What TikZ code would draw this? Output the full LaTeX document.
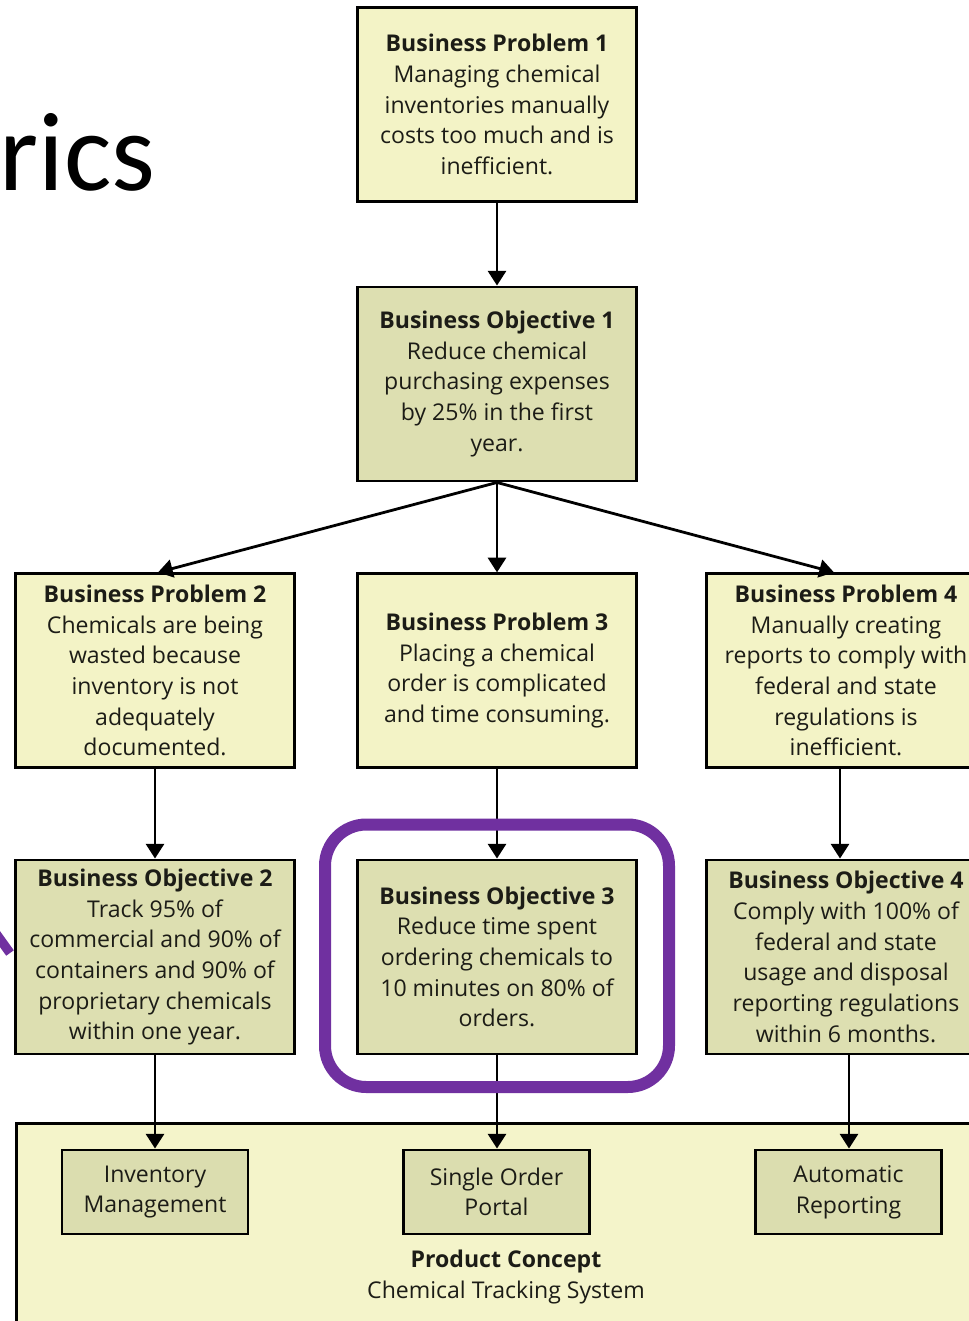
\documentclass[tikz,border=0pt]{standalone}
\usepackage{fontspec}
\setmainfont{Open Sans}
\newfontfamily\titlefont{Carlito}
\usetikzlibrary{arrows.meta,calc}
\definecolor{probfill}{RGB}{243,243,198}
\definecolor{objfill}{RGB}{221,223,177}
\definecolor{conceptfill}{RGB}{244,244,202}
\definecolor{featfill}{RGB}{219,221,175}
\definecolor{inkdark}{RGB}{28,28,22}
\definecolor{hilite}{RGB}{112,48,160}
\begin{document}
\begin{tikzpicture}[x=0.75pt,y=-0.75pt,
  box/.style={draw=black,line width=2.2pt,inner sep=0pt,align=center,text=inkdark,
    font=\fontsize{17.3}{23}\selectfont},
  prob/.style={box,fill=probfill,minimum width=209pt,minimum height=145pt},
  obj/.style={box,fill=objfill,minimum width=209pt,minimum height=145.5pt},
  feat/.style={box,fill=featfill,minimum width=139.5pt,minimum height=63pt},
  arr/.style={line width=2.1pt,-{Triangle[width=13.5pt,length=11pt]}},
]
\useasboundingbox (0,0) rectangle (969,1321);
\clip (0,0) rectangle (969,1321);
\fill[white] (0,0) rectangle (969,1321);

% slide title fragment
\node[anchor=base west,inner sep=0pt,font=\titlefont\fontsize{84}{90}\selectfont] (title) at (-1,190) {rics};

% product concept frame
\node[draw=black,line width=2.2pt,fill=conceptfill,inner sep=0pt,
  minimum width=756pt,minimum height=170pt,anchor=north west] (pc) at (15,1122) {};

% problems and objectives
\node[prob] (bp1) at (497,104.5) {\textbf{Business Problem 1}\\Managing chemical\\inventories manually\\costs too much and is\\inefficient.};
\node[obj] (bo1) at (497,384) {\textbf{Business Objective 1}\\Reduce chemical\\purchasing expenses\\by 25\% in the first\\year.};

\node[prob] (bp2) at (155,670.5) {\textbf{Business Problem 2}\\Chemicals are being\\wasted because\\inventory is not\\adequately\\documented.};
\node[prob] (bp3) at (497,670.5) {\textbf{Business Problem 3}\\Placing a chemical\\order is complicated\\and time consuming.};
\node[prob] (bp4) at (846,670.5) {\textbf{Business Problem 4}\\Manually creating\\reports to comply with\\federal and state\\regulations is\\inefficient.};

\node[obj] (bo2) at (155,957) {\textbf{Business Objective 2}\\Track 95\% of\\commercial and 90\% of\\containers and 90\% of\\proprietary chemicals\\within one year.};
\node[obj] (bo3) at (497,957) {\textbf{Business Objective 3}\\Reduce time spent\\ordering chemicals to\\10 minutes on 80\% of\\orders.};
\node[obj] (bo4) at (846,957) {\textbf{Business Objective 4}\\Comply with 100\% of\\federal and state\\usage and disposal\\reporting regulations\\within 6 months.};

% features of the product concept
\node[feat] (im) at (155,1192) {Inventory\\Management};
\node[feat] (sop) at (496.5,1192) {Single Order\\Portal};
\node[feat] (ar) at (848.5,1192) {Automatic\\Reporting};
\node[align=center,text=inkdark,font=\fontsize{17.3}{23}\selectfont] (pcl) at (506,1277)
  {\textbf{Product Concept}\\Chemical Tracking System};

% connectors
\draw[arr] (bp1.south) -- (bo1.north);
\draw[arr] (bo1.south) -- ($(bp2.north)+(3,0)$);
\draw[arr] (bo1.south) -- (bp3.north);
\draw[arr] (bo1.south) -- ($(bp4.north)+(-12,0)$);
\draw[arr] (bp2.south) -- (bo2.north);
\draw[arr] (bp3.south) -- (bo3.north);
\draw[arr] ($(bp4.south)+(-6,0)$) -- ($(bo4.north)+(-6,0)$);
\draw[arr] (bo2.south) -- (bo2.south |- im.north);
\draw[arr] (bo3.south) -- (bo3.south |- sop.north);
\draw[arr] ($(bo4.south)+(3,0)$) -- ($(bo4.south |- ar.north)+(3,0)$);

% highlight around objective 3
\draw[hilite,line width=9pt,rounded corners=31pt] (325,824.5) rectangle (669,1087);
\coordinate (hl) at (10,953);
\draw[hilite,line width=7pt] (-8,928) -- (hl);
\end{tikzpicture}
\end{document}
